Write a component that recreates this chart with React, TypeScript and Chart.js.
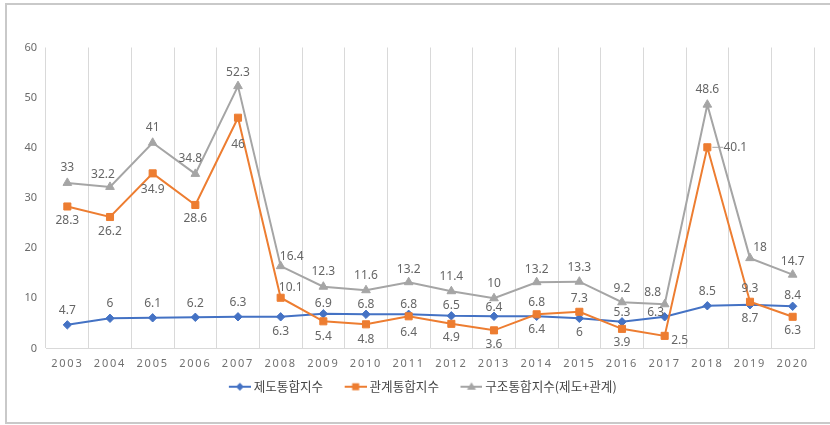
import React, { useEffect, useRef } from 'react';
import { Chart, registerables } from 'chart.js';

Chart.register(...registerables);

const years = ['2003', '2004', '2005', '2006', '2007', '2008', '2009', '2010', '2011', '2012', '2013', '2014', '2015', '2016', '2017', '2018', '2019', '2020'];
const seriesNames = ['제도통합지수', '관계통합지수', '구조통합지수(제도+관계)'];
const institutional = [4.7, 6, 6.1, 6.2, 6.3, 6.3, 6.9, 6.8, 6.8, 6.5, 6.4, 6.4, 6, 5.3, 6.3, 8.5, 8.7, 8.4];
const relational = [28.3, 26.2, 34.9, 28.6, 46, 10.1, 5.4, 4.8, 6.4, 4.9, 3.6, 6.8, 7.3, 3.9, 2.5, 40.1, 9.3, 6.3];
const structural = [33, 32.2, 41, 34.8, 52.3, 16.4, 12.3, 11.6, 13.2, 11.4, 10, 13.2, 13.3, 9.2, 8.8, 48.6, 18, 14.7];
const yMin = 0;
const yMax = 60;
const yStep = 10;

// label placement (style only): offsets of each data label from its marker
const blueLabelDx = [0, 0, 0, 0, 0, 0, 0, 0, 0, 0, 0, 0, 0, 0, -9, 0, 0, 0];
const blueLabelDy = [-14, -15, -14, -14, -14, 15, -10, -10, -10, -10, -9, 13, 14, -9, -4, -14, 14, -11];
const orangeLabelDx = [0, 0, 0, 0, 0, 10, 0, 0, 0, 0, 0, 0, 0, 0, 15, 28, 0, 0];
const orangeLabelDy = [14, 15, 16, 14, 27, -10, 15, 15, 16, 14, 14, -12, -13, 14, 5, 0, -13, 14];
const grayLabelDx = [0, -7, 0, -5, 0, 11, 0, 0, 0, 0, 0, 0, 0, 0, -12, 0, 10, 0];
const grayLabelDy = [-15, -12, -15, -15, -14, -10, -15, -15, -13, -15, -15, -13, -14, -14, -12, -15, -11, -13];

const BLUE = '#4472C4';
const ORANGE = '#ED7D31';
const GRAY = '#A5A5A5';
const LABEL_COLOR = '#666666';
const FONT = "'Noto Sans', 'Noto Sans CJK KR', sans-serif";
const KFONT = "'Noto Sans CJK KR', 'Noto Sans', sans-serif";
const LEGEND_SIZE = 12.6;

function legendIcon(color: string, style: string): HTMLCanvasElement {
  const c = document.createElement('canvas');
  c.width = 37;
  c.height = 14;
  const ctx = c.getContext('2d')!;
  ctx.strokeStyle = color;
  ctx.fillStyle = color;
  ctx.lineWidth = 2;
  ctx.beginPath();
  ctx.moveTo(15, 7);
  ctx.lineTo(37, 7);
  ctx.stroke();
  const cx = 26;
  const cy = 7;
  ctx.beginPath();
  if (style === 'diamond') {
    ctx.moveTo(cx, cy - 4);
    ctx.lineTo(cx + 4, cy);
    ctx.lineTo(cx, cy + 4);
    ctx.lineTo(cx - 4, cy);
  } else if (style === 'square') {
    ctx.rect(cx - 3.5, cy - 3.5, 7, 7);
  } else {
    ctx.moveTo(cx, cy - 4.5);
    ctx.lineTo(cx + 4.5, cy + 3);
    ctx.lineTo(cx - 4.5, cy + 3);
  }
  ctx.closePath();
  ctx.fill();
  return c;
}

const dataLabelPlugin = {
  id: 'dataLabels',
  afterDatasetsDraw(chart: any) {
    const ctx = chart.ctx;
    const dxs = [blueLabelDx, orangeLabelDx, grayLabelDx];
    const dys = [blueLabelDy, orangeLabelDy, grayLabelDy];
    ctx.save();
    ctx.font = `12px ${FONT}`;
    ctx.fillStyle = LABEL_COLOR;
    ctx.textAlign = 'center';
    ctx.textBaseline = 'middle';
    chart.data.datasets.forEach((ds: any, di: number) => {
      const meta = chart.getDatasetMeta(di);
      meta.data.forEach((pt: any, i: number) => {
        const dx = dxs[di][i];
        const dy = dys[di][i];
        const x = pt.x + dx;
        const y = pt.y + dy;
        if (Math.abs(dx) >= 20) {
          ctx.save();
          ctx.strokeStyle = '#a6a6a6';
          ctx.lineWidth = 1;
          ctx.beginPath();
          ctx.moveTo(pt.x + 5, pt.y);
          ctx.lineTo(x - 12, y);
          ctx.stroke();
          ctx.restore();
        }
        ctx.fillText(String(ds.data[i]), x, y);
      });
    });
    ctx.restore();
  },
};

const spacingPlugin = {
  id: 'xLetterSpacing',
  beforeDraw(chart: any) {
    const s = chart.scales.x;
    if (s && !s.__spaced) {
      const orig = s.drawLabels.bind(s);
      s.drawLabels = (area: any) => {
        const ctx = s.ctx;
        const prev = ctx.letterSpacing;
        ctx.letterSpacing = '1.8px';
        orig(area);
        ctx.letterSpacing = prev || '0px';
      };
      s.__spaced = true;
    }
  },
};

export default function App() {
  const ref = useRef<HTMLCanvasElement | null>(null);

  useEffect(() => {
    if (!ref.current) return;
    const icons = [legendIcon(BLUE, 'diamond'), legendIcon(ORANGE, 'square'), legendIcon(GRAY, 'triangle')];
    const chart = new Chart(ref.current, {
      type: 'line',
      data: {
        labels: years,
        datasets: [
          {
            label: seriesNames[0],
            data: institutional,
            borderColor: BLUE,
            backgroundColor: BLUE,
            borderWidth: 2,
            pointStyle: 'rectRot',
            pointRadius: 4.2,
            pointBorderWidth: 1,
            order: 2,
          },
          {
            label: seriesNames[1],
            data: relational,
            borderColor: ORANGE,
            backgroundColor: ORANGE,
            borderWidth: 2,
            pointStyle: 'rect',
            pointRadius: 5,
            pointBorderWidth: 1,
            order: 1,
          },
          {
            label: seriesNames[2],
            data: structural,
            borderColor: GRAY,
            backgroundColor: GRAY,
            borderWidth: 2,
            pointStyle: 'triangle',
            pointRadius: 5,
            pointBorderWidth: 1,
            order: 0,
          },
        ],
      },
      options: {
        responsive: false,
        animation: false,
        events: [],
        layout: { padding: { left: 20, right: 16, top: 47.5, bottom: 22 } },
        scales: {
          x: {
            type: 'category',
            offset: true,
            grid: { display: true, offset: true, color: '#d9d9d9', lineWidth: 1, drawTicks: false },
            border: { display: true, color: '#d9d9d9', width: 1 },
            ticks: { color: '#707070', font: { family: FONT, size: 11 }, padding: 9, maxRotation: 0, autoSkip: false },
            afterFit: (scale: any) => {
              scale.height = 22;
            },
          },
          y: {
            min: yMin,
            max: yMax,
            grid: { display: false, drawTicks: false },
            border: { display: false },
            ticks: { stepSize: yStep, color: '#6b6b6b', font: { family: FONT, size: 11 }, padding: 9 },
            afterFit: (scale: any) => {
              scale.width = 26;
            },
          },
        },
        plugins: {
          tooltip: { enabled: false },
          title: { display: false },
          legend: {
            display: true,
            position: 'bottom',
            labels: {
              usePointStyle: true,
              pointStyleWidth: 30,
              padding: 10,
              color: '#454545',
              font: { family: KFONT, size: LEGEND_SIZE },
              generateLabels: (c: any) =>
                c.data.datasets.map((ds: any, i: number) => ({
                  text: ds.label,
                  fillStyle: ds.backgroundColor,
                  strokeStyle: ds.borderColor,
                  lineWidth: 0,
                  pointStyle: icons[i],
                  hidden: false,
                  datasetIndex: i,
                  fontColor: '#454545',
                })),
            },
          },
        },
      },
      plugins: [dataLabelPlugin, spacingPlugin],
    } as any);
    return () => chart.destroy();
  }, []);

  return (
    <div style={{ position: 'absolute', left: 0, top: 0, width: 830, height: 425, overflow: 'hidden', background: '#ffffff' }}>
      <div
        style={{
          position: 'absolute',
          left: 5,
          top: 3,
          width: 900,
          height: 421,
          boxSizing: 'border-box',
          border: '2px solid #c9c9c9',
        }}
      />
      <canvas ref={ref} width={830} height={425} style={{ position: 'absolute', left: 0, top: 0, width: 830, height: 425 }} />
    </div>
  );
}
